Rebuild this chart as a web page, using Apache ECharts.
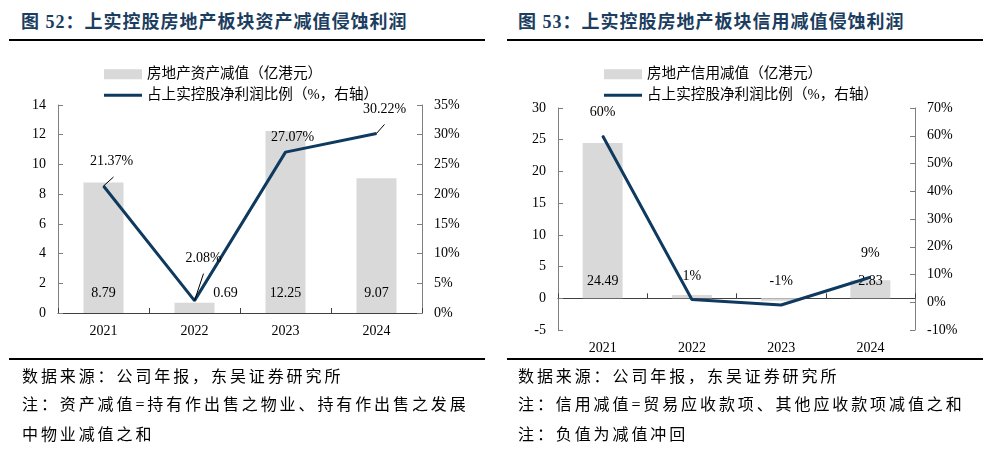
<!DOCTYPE html>
<html><head><meta charset="utf-8">
<script src="https://cdn.jsdelivr.net/npm/echarts@6/dist/echarts.min.js"></script>
<style>
html,body{margin:0;padding:0;background:#fff;}
#wrap{position:relative;width:1004px;height:450px;overflow:hidden;font-family:'Liberation Serif','Noto Sans CJK SC',serif;}
.title{position:absolute;top:10px;font-size:18px;font-weight:bold;color:#1b3d60;letter-spacing:1px;line-height:24px;white-space:nowrap;}
.rule{position:absolute;height:2px;background:#000;}
.note{position:absolute;font-size:16px;letter-spacing:2.9px;line-height:20px;color:#000;white-space:nowrap;}
#chart{position:absolute;left:0;top:0;width:1004px;height:450px;}
</style></head>
<body>
<div id="wrap">
  <div class="title" style="left:21px;">图 52：上实控股房地产板块资产减值侵蚀利润</div>
  <div class="title" style="left:518px;">图 53：上实控股房地产板块信用减值侵蚀利润</div>
  <div class="rule" style="left:9px;width:476px;top:39px;"></div>
  <div class="rule" style="left:507px;width:476px;top:39px;"></div>
  <div id="chart"></div>
  <div class="rule" style="left:9px;width:476px;top:358px;"></div>
  <div class="rule" style="left:507px;width:476px;top:358px;"></div>
  <div class="note" style="left:22px;top:367px;">数据来源：公司年报，东吴证券研究所</div>
  <div class="note" style="left:22px;top:395px;">注：资产减值=持有作出售之物业、持有作出售之发展</div>
  <div class="note" style="left:22px;top:425px;">中物业减值之和</div>
  <div class="note" style="left:518px;top:367px;">数据来源：公司年报，东吴证券研究所</div>
  <div class="note" style="left:518px;top:395px;">注：信用减值=贸易应收款项、其他应收款项减值之和</div>
  <div class="note" style="left:518px;top:425px;">注：负值为减值冲回</div>
</div>
<script>
const years = ['2021', '2022', '2023', '2024'];
const assetImpairment = [8.79, 0.69, 12.25, 9.07];      // 亿港元
const assetRatio = [21.37, 2.08, 27.07, 30.22];          // %
const creditImpairment = [24.49, 0.5, -0.4, 2.83];       // 亿港元
const creditRatio = [60, 1, -1, 9];                      // %

const barName1 = '房地产资产减值（亿港元）';
const barName2 = '房地产信用减值（亿港元）';
const lineName = '占上实控股净利润比例（%，右轴）';

const FONT = "'Liberation Serif','Noto Sans CJK SC',serif";
const BAR = '#d9d9d9';
const LINE = '#0f3a5f';
const txt = {fontFamily: FONT, fontSize: 14, color: '#000'};

// label displacement (px) of the left line's value labels, and their leader lines
const labelShift = [[8, -12], [9, -30], [7, -2], [8, -12]];
const leader = [[10, -9], [9, -27], null, [8, -9]];

function valAxis(grid, min, max, interval, pos, pct) {
  return {
    type: 'value', gridIndex: grid, position: pos, min: min, max: max, interval: interval,
    axisLine: {show: true, lineStyle: {color: '#7f7f7f', width: 1}},
    axisTick: {show: true, inside: true, length: 5, lineStyle: {color: '#7f7f7f'}},
    splitLine: {show: false},
    axisLabel: Object.assign({margin: 12, formatter: pct ? '{value}%' : '{value}'}, txt)
  };
}
function catAxis(grid) {
  return {
    type: 'category', gridIndex: grid, data: years,
    axisLine: {show: true, onZero: true, onZeroAxisIndex: grid * 2, lineStyle: {color: '#404040', width: 1}},
    axisTick: {show: true, inside: true, length: 5, interval: 0, lineStyle: {color: '#404040'}},
    axisLabel: Object.assign({margin: 11}, txt)
  };
}
function legend(name, left, top, h) {
  return {data: [name], left: left, top: top, itemWidth: 38, itemHeight: h, icon: 'rect',
    itemGap: 0, textStyle: {fontFamily: FONT, fontSize: 14.6, color: '#000'}};
}

const chart = echarts.init(document.getElementById('chart'), null, {renderer: 'canvas'});
chart.setOption({
  animation: false,
  backgroundColor: 'transparent',
  legend: [
    legend(barName1, 99, 62, 10), legend(lineName, 99, 83, 3),
    legend(barName2, 599, 62, 10), legend(lineName, 599, 83, 3)
  ],
  grid: [
    {left: 58, width: 364, top: 105, height: 208},
    {left: 558, width: 357, top: 108, height: 222}
  ],
  xAxis: [catAxis(0), catAxis(1)],
  yAxis: [
    valAxis(0, 0, 14, 2, 'left', false),
    valAxis(0, 0, 35, 5, 'right', true),
    valAxis(1, -5, 30, 5, 'left', false),
    valAxis(1, -10, 70, 10, 'right', true)
  ],
  series: [
    {
      name: barName1, type: 'bar', xAxisIndex: 0, yAxisIndex: 0, barWidth: 40,
      itemStyle: {color: BAR},
      data: assetImpairment.map(v => v < 1 ? {value: v, label: {offset: [31, 0]}} : v),
      label: Object.assign({show: true, position: 'insideBottom', distance: 13}, txt)
    },
    {
      name: lineName, type: 'line', xAxisIndex: 0, yAxisIndex: 1, data: assetRatio,
      symbol: 'circle', symbolSize: 1, itemStyle: {color: LINE},
      lineStyle: {color: LINE, width: 3}, z: 5,
      label: Object.assign({show: true, position: 'top', distance: 5,
        formatter: p => p.value.toFixed(2) + '%'}, txt),
      labelLayout: function (p) {
        const d = labelShift[p.dataIndex];
        return {dx: d[0], dy: d[1]};
      }
    },
    {
      name: barName2, type: 'bar', xAxisIndex: 1, yAxisIndex: 2, barWidth: 40,
      itemStyle: {color: BAR},
      data: creditImpairment,
      label: Object.assign({show: true, position: 'insideBottom', distance: 10,
        formatter: p => Math.abs(p.value) >= 1 ? p.value.toFixed(2) : ''}, txt)
    },
    {
      name: lineName, type: 'line', xAxisIndex: 1, yAxisIndex: 3, data: creditRatio,
      symbol: 'circle', symbolSize: 1, itemStyle: {color: LINE},
      lineStyle: {color: LINE, width: 3}, z: 5,
      label: Object.assign({show: true, position: 'top', distance: 16,
        formatter: p => p.value + '%'}, txt)
    }
  ]
});

// leader lines from data points (positions derived from the chart's own scales)
const leaders = [];
assetRatio.forEach((v, i) => {
  if (!leader[i]) return;
  const pt = chart.convertToPixel({seriesIndex: 1}, [i, v]);
  leaders.push({
    type: 'line', z: 10, silent: true,
    shape: {x1: pt[0], y1: pt[1], x2: pt[0] + leader[i][0], y2: pt[1] + leader[i][1]},
    style: {stroke: '#000', lineWidth: 1}
  });
});
chart.setOption({graphic: leaders});
</script>
</body></html>
